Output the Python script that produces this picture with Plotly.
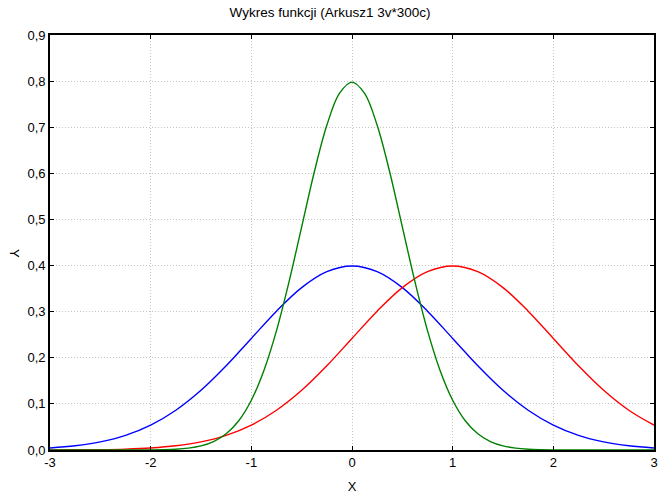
import plotly.graph_objects as go

# Data
x_wide = [-3.0, -2.75, -2.5, -2.25, -2.0, -1.75, -1.5, -1.25, -1.0, -0.75, -0.5, -0.25,
          0.0, 0.25, 0.5, 0.75, 1.0, 1.25, 1.5, 1.75, 2.0, 2.25, 2.5, 2.75, 3.0]
blue_y = [0.0044, 0.0091, 0.0175, 0.0317, 0.0540, 0.0863, 0.1295, 0.1826, 0.2420, 0.3011,
          0.3521, 0.3867, 0.3989, 0.3867, 0.3521, 0.3011, 0.2420, 0.1826, 0.1295, 0.0863,
          0.0540, 0.0317, 0.0175, 0.0091, 0.0044]
red_y = [0.0001, 0.0004, 0.0009, 0.0020, 0.0044, 0.0091, 0.0175, 0.0317, 0.0540, 0.0863,
         0.1295, 0.1826, 0.2420, 0.3011, 0.3521, 0.3867, 0.3989, 0.3867, 0.3521, 0.3011,
         0.2420, 0.1826, 0.1295, 0.0863, 0.0540]

x_narrow = [-3.0, -2.5, -2.0, -1.875, -1.75, -1.625, -1.5, -1.375, -1.25, -1.125, -1.0,
            -0.875, -0.75, -0.625, -0.5, -0.375, -0.25, -0.125, 0.0, 0.125, 0.25, 0.375,
            0.5, 0.625, 0.75, 0.875, 1.0, 1.125, 1.25, 1.375, 1.5, 1.625, 1.75, 1.875,
            2.0, 2.5, 3.0]
green_y = [0.0, 0.0, 0.0003, 0.0007, 0.0017, 0.0041, 0.0089, 0.0182, 0.0351, 0.0635, 0.1080,
           0.1726, 0.2590, 0.3653, 0.4839, 0.6023, 0.7041, 0.7733, 0.7979, 0.7733, 0.7041,
           0.6023, 0.4839, 0.3653, 0.2590, 0.1726, 0.1080, 0.0635, 0.0351, 0.0182, 0.0089,
           0.0041, 0.0017, 0.0007, 0.0003, 0.0, 0.0]

x_ticks = [-3, -2, -1, 0, 1, 2, 3]
x_tick_labels = ["-3", "-2", "-1", "0", "1", "2", "3"]
y_ticks = [0.0, 0.1, 0.2, 0.3, 0.4, 0.5, 0.6, 0.7, 0.8, 0.9]
y_tick_labels = ["0,0", "0,1", "0,2", "0,3", "0,4", "0,5", "0,6", "0,7", "0,8", "0,9"]

title_text = "Wykres funkcji (Arkusz1 3v*300c)"
x_title = "X"
y_title = "Y"

FONT = "Liberation Sans, Arial"

fig = go.Figure()
fig.add_trace(go.Scatter(x=x_wide, y=blue_y, mode="lines",
                         line=dict(color="#0000ff", width=1.4, shape="spline")))
fig.add_trace(go.Scatter(x=x_wide, y=red_y, mode="lines",
                         line=dict(color="#ff0000", width=1.4, shape="spline")))
fig.add_trace(go.Scatter(x=x_narrow, y=green_y, mode="lines",
                         line=dict(color="#008000", width=1.4, shape="spline")))

axis_common = dict(
    showline=True, linecolor="#000000", linewidth=1.6, mirror="ticks",
    ticks="inside", ticklen=4, tickcolor="#000000", tickwidth=1,
    showgrid=True, gridcolor="#c4c4c4", griddash="1px,2px", gridwidth=1,
    zeroline=False,
    tickfont=dict(family=FONT, size=13, color="#000000"),
)

fig.update_layout(
    width=660, height=497,
    margin=dict(l=50, r=2, t=35, b=47),
    paper_bgcolor="white", plot_bgcolor="white",
    showlegend=False,
    title=dict(text=title_text, x=0.5, xanchor="center", y=0.975, yanchor="middle",
               font=dict(family=FONT, size=13.5, color="#000000")),
    xaxis=dict(axis_common, range=[-3, 3], tickvals=x_ticks, ticktext=x_tick_labels,
               title=dict(text=x_title, standoff=12,
                          font=dict(family=FONT, size=13, color="#000000"))),
    yaxis=dict(axis_common, range=[0, 0.9], tickvals=y_ticks, ticktext=y_tick_labels),
    annotations=[dict(text=y_title, xref="paper", yref="paper", x=0, y=0.475,
                      xanchor="center", yanchor="middle", xshift=-36, textangle=90,
                      showarrow=False, font=dict(family=FONT, size=13, color="#000000"))],
)

fig.write_html("out.html")
